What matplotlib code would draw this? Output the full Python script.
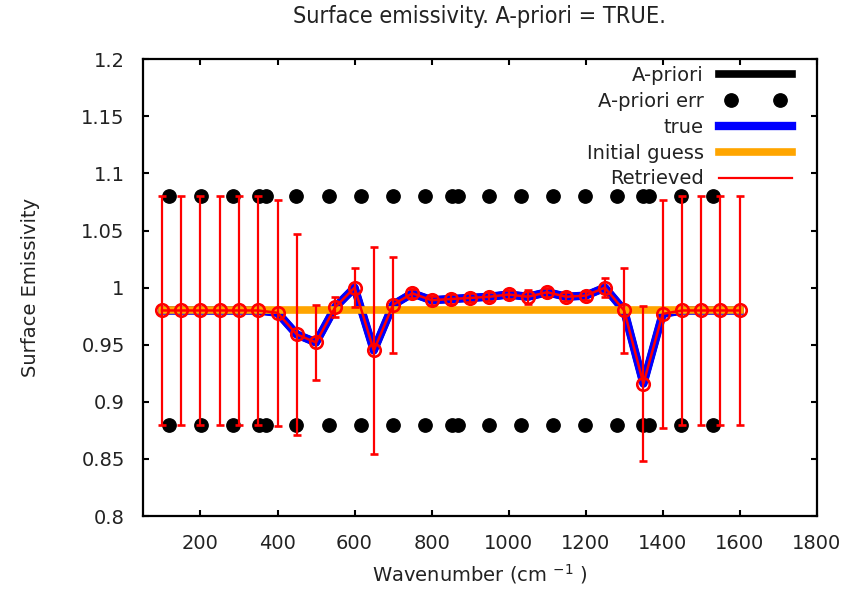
import matplotlib
matplotlib.use('Agg')
from matplotlib import pyplot as plt
from matplotlib.legend_handler import HandlerLine2D

wavenumber = [100, 150, 200, 250, 300, 350, 400, 450, 500, 550, 600, 650, 700, 750, 800, 850,
              900, 950, 1000, 1050, 1100, 1150, 1200, 1250, 1300, 1350, 1400, 1450, 1500, 1550, 1600]

retrieved = [0.98, 0.98, 0.98, 0.98, 0.98, 0.98, 0.978, 0.959, 0.952, 0.983, 1.0, 0.945, 0.985, 0.995, 0.989, 0.99,
             0.991, 0.992, 0.994, 0.992, 0.996, 0.992, 0.993, 1.0, 0.98, 0.916, 0.977, 0.98, 0.98, 0.98, 0.98]
retrieved_err = [0.1, 0.1, 0.1, 0.1, 0.1, 0.1, 0.099, 0.088, 0.033, 0.009, 0.017, 0.091, 0.042, 0.004, 0.004, 0.004,
                 0.004, 0.004, 0.004, 0.006, 0.004, 0.004, 0.004, 0.0085, 0.037, 0.068, 0.1, 0.1, 0.1, 0.1, 0.1]
true_vals = [0.98, 0.98, 0.98, 0.98, 0.98, 0.98, 0.978, 0.959, 0.952, 0.983, 1.0, 0.945, 0.985, 0.995, 0.989, 0.99,
             0.991, 0.992, 0.994, 0.992, 0.996, 0.992, 0.993, 1.0, 0.98, 0.916, 0.977, 0.98, 0.98, 0.98, 0.98]
apriori = true_vals
initial_guess = [0.98] * len(wavenumber)

# a-priori error bounds (dotted line in the original)
err_x = [119, 201, 284, 352, 370, 448, 534, 616, 701, 783, 852, 869, 950, 1032,
         1116, 1198, 1281, 1348, 1365, 1447, 1530]
err_upper = [1.08] * len(err_x)
err_lower = [0.88] * len(err_x)

xticks = [200, 400, 600, 800, 1000, 1200, 1400, 1600, 1800]
yticks = [0.8, 0.85, 0.9, 0.95, 1.0, 1.05, 1.1, 1.15, 1.2]


def main():
    plt.rcParams['font.family'] = ['DejaVu Sans']
    plt.rcParams['font.size'] = 14

    fig = plt.figure(figsize=(8.46, 5.91), dpi=100)
    ax = fig.add_axes([0.1687, 0.1269, 0.7967, 0.7728])

    l_ap, = ax.plot(wavenumber, apriori, color='black', lw=5.5, label='A-priori')
    l_err, = ax.plot(err_x, err_upper, ls='none', marker='o', ms=9.6, color='black', label='A-priori err')
    ax.plot(err_x, err_lower, ls='none', marker='o', ms=9.6, color='black')
    l_true, = ax.plot(wavenumber, true_vals, color='#0000ff', lw=6, label='true')
    l_ig, = ax.plot(wavenumber, initial_guess, color='#ffa500', lw=5.5, label='Initial guess')
    ax.errorbar(wavenumber, retrieved, yerr=retrieved_err, color='red', lw=1.8, elinewidth=1.6,
                capsize=3.2, capthick=1.6, marker='o', ms=9, mfc='none', mew=1.9)
    l_ret, = ax.plot([], [], color='red', lw=1.6, label='Retrieved')

    ax.set_xlim(50, 1800)
    ax.set_ylim(0.8, 1.2)
    ax.set_xticks(xticks)
    ax.set_yticks(yticks)
    ax.set_yticklabels(['%g' % v for v in yticks])
    ax.tick_params(direction='in', length=4, width=1.5, top=True, right=True, pad=13, colors='black')
    ax.tick_params(axis='x', labelcolor='#222222')
    ax.tick_params(axis='y', labelcolor='#222222')
    for s in ax.spines.values():
        s.set_linewidth(1.6)

    ax.set_xlabel('Wavenumber (cm $^{-1}$ )', color='#222222')
    ax.xaxis.set_label_coords(0.5, -0.100)
    ax.set_ylabel('Surface Emissivity', color='#222222')
    ax.yaxis.set_label_coords(-0.152, 0.5)
    ax.set_title('Surface emissivity. A-priori = TRUE.', pad=26, fontstretch='condensed', color='#222222')

    leg = ax.legend(handles=[l_ap, l_err, l_true, l_ig, l_ret], loc='upper right',
                    bbox_to_anchor=(0.963, 0.985), frameon=False, markerfirst=False,
                    handlelength=3.75, handletextpad=0.77, labelspacing=0.35,
                    borderpad=0, borderaxespad=0,
                    handler_map={l_err: HandlerLine2D(numpoints=2, marker_pad=0.6)})
    for t in leg.get_texts():
        t.set_color('#222222')

    fig.savefig('out.png', dpi=100)


if __name__ == '__main__':
    main()
